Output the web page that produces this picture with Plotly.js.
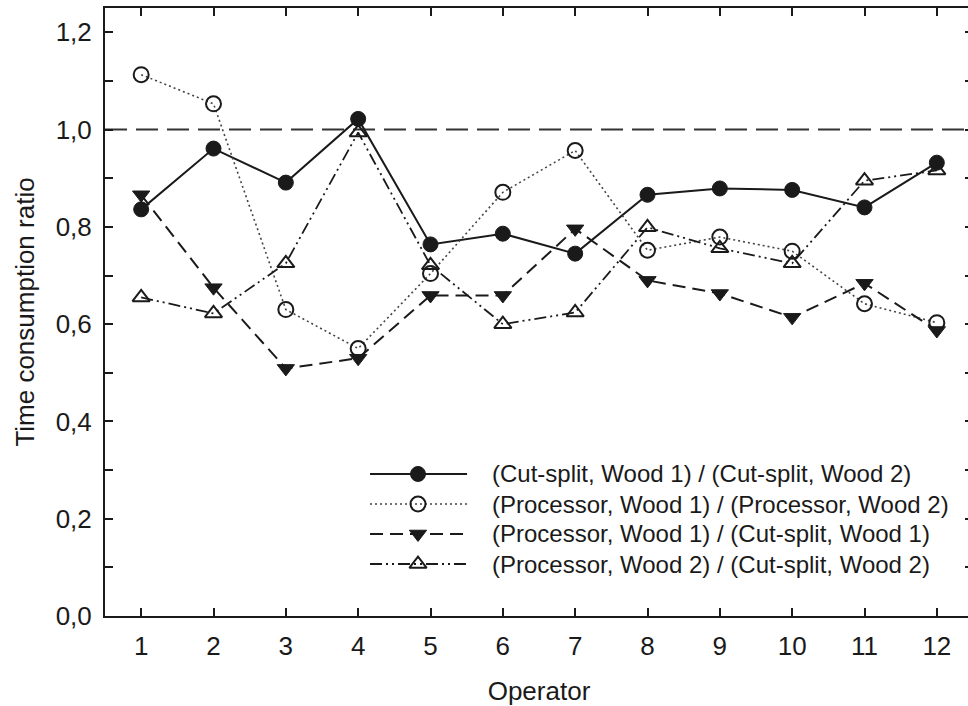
<!DOCTYPE html>
<html>
<head>
<meta charset="utf-8">
<script src="https://cdn.plot.ly/plotly-3.0.1.min.js"></script>
<style>
html,body{margin:0;padding:0;overflow:hidden;background:#fff;}
#chart{width:975px;height:706px;}
</style>
</head>
<body>
<div id="chart"></div>
<script>
// ---- data ----
const operators = [1,2,3,4,5,6,7,8,9,10,11,12];
const cutSplitW1_over_cutSplitW2 = [0.836,0.961,0.891,1.022,0.764,0.786,0.745,0.866,0.879,0.876,0.840,0.932];
const procW1_over_procW2 = [1.113,1.053,0.630,0.550,0.704,0.871,0.957,0.752,0.779,0.750,0.642,0.603];
const procW1_over_cutSplitW1 = [0.866,0.675,0.509,0.530,0.659,0.659,0.796,0.690,0.663,0.614,0.684,0.587];
const procW2_over_cutSplitW2 = [0.655,0.622,0.725,0.994,0.721,0.600,0.624,0.799,0.756,0.725,0.895,0.916];
const seriesNames = [
  "(Cut-split, Wood 1) / (Cut-split, Wood 2)",
  "(Processor, Wood 1) / (Processor, Wood 2)",
  "(Processor, Wood 1) / (Cut-split, Wood 1)",
  "(Processor, Wood 2) / (Cut-split, Wood 2)"
];
const yTickVals = [0,0.1,0.2,0.3,0.4,0.5,0.6,0.7,0.8,0.9,1.0,1.1,1.2];
const yTickText = ["0,0","","0,2","","0,4","","0,6","","0,8","","1,0","","1,2"];
const referenceRatio = 1.0;

// ---- styles ----
const ink = "#1a1a1a";
const styles = [
  {line:{color:ink,width:2,dash:"solid"}, marker:{symbol:"circle",size:15,color:ink,line:{color:ink,width:1}}},
  {line:{color:"#444",width:1.6,dash:"2px,3px"}, marker:{symbol:"circle-open",size:15,color:ink,line:{color:ink,width:2}}},
  {line:{color:ink,width:2,dash:"13px,7px"}, marker:{symbol:"triangle-down",size:15,color:ink,line:{color:ink,width:1}}},
  {line:{color:ink,width:1.8,dash:"12px,4px,2px,4px,2px,4px"}, marker:{symbol:"triangle-up-open",size:15,color:ink,line:{color:ink,width:2}}}
];
const seriesValues = [cutSplitW1_over_cutSplitW2, procW1_over_procW2, procW1_over_cutSplitW1, procW2_over_cutSplitW2];

const traces = seriesValues.map((vals,i)=>({
  type:"scatter", mode:"lines+markers", x:operators, y:vals, name:seriesNames[i],
  line:styles[i].line, marker:styles[i].marker, showlegend:false, cliponaxis:false
}));

// ---- custom legend (drawn on a hidden overlay axis spanning the plot area) ----
const legendLineX = [0.3053, 0.4171];
const legendMarkX = 0.3606;
const legendRowsY = [0.2336, 0.1842, 0.1349, 0.0855];
const legendTextX = 0.4435;
const annotations = [];
seriesNames.forEach((nm,i)=>{
  traces.push({type:"scatter",mode:"lines",x:legendLineX,y:[legendRowsY[i],legendRowsY[i]],
    xaxis:"x2",yaxis:"y2",line:styles[i].line,showlegend:false,hoverinfo:"skip"});
  traces.push({type:"scatter",mode:"markers",x:[legendMarkX],y:[legendRowsY[i]],
    xaxis:"x2",yaxis:"y2",marker:styles[i].marker,showlegend:false,hoverinfo:"skip"});
  annotations.push({xref:"paper",yref:"paper",x:legendTextX,y:legendRowsY[i],xanchor:"left",yanchor:"middle",
    text:nm,showarrow:false,font:{family:"Liberation Sans, Arial, sans-serif",size:24,color:ink}});
});

const font = {family:"Liberation Sans, Arial, sans-serif", size:26, color:ink};
const layout = {
  width:975, height:706,
  margin:{l:105, r:2, t:8, b:90},
  paper_bgcolor:"#fff", plot_bgcolor:"#fff",
  font:font,
  showlegend:false,
  xaxis:{
    range:[0.5,12.5], tickvals:operators, ticktext:operators.map(String),
    ticks:"inside", ticklen:8, tickwidth:2, tickcolor:ink,
    showline:true, linewidth:2, linecolor:ink, mirror:"ticks",
    showgrid:false, zeroline:false, tickfont:font, ticklabelstandoff:6,
    title:{text:"Operator", font:font, standoff:22}
  },
  yaxis:{
    range:[0,1.25], tickvals:yTickVals, ticktext:yTickText,
    ticks:"inside", ticklen:8, tickwidth:2, tickcolor:ink,
    showline:true, linewidth:2, linecolor:ink, mirror:"ticks",
    showgrid:false, zeroline:false, tickfont:font, ticklabelstandoff:6,
    title:{text:"Time consumption ratio", font:font, standoff:14}
  },
  xaxis2:{overlaying:"x", range:[0,1], visible:false, fixedrange:true},
  yaxis2:{overlaying:"y", range:[0,1], visible:false, fixedrange:true},
  shapes:[{type:"line", xref:"paper", x0:0, x1:1, yref:"y", y0:referenceRatio, y1:referenceRatio,
    line:{color:"#333", width:2, dash:"22px,9px"}, layer:"below"}],
  annotations:annotations
};
Plotly.newPlot("chart", traces, layout, {displayModeBar:false, staticPlot:true});
</script>
</body>
</html>
